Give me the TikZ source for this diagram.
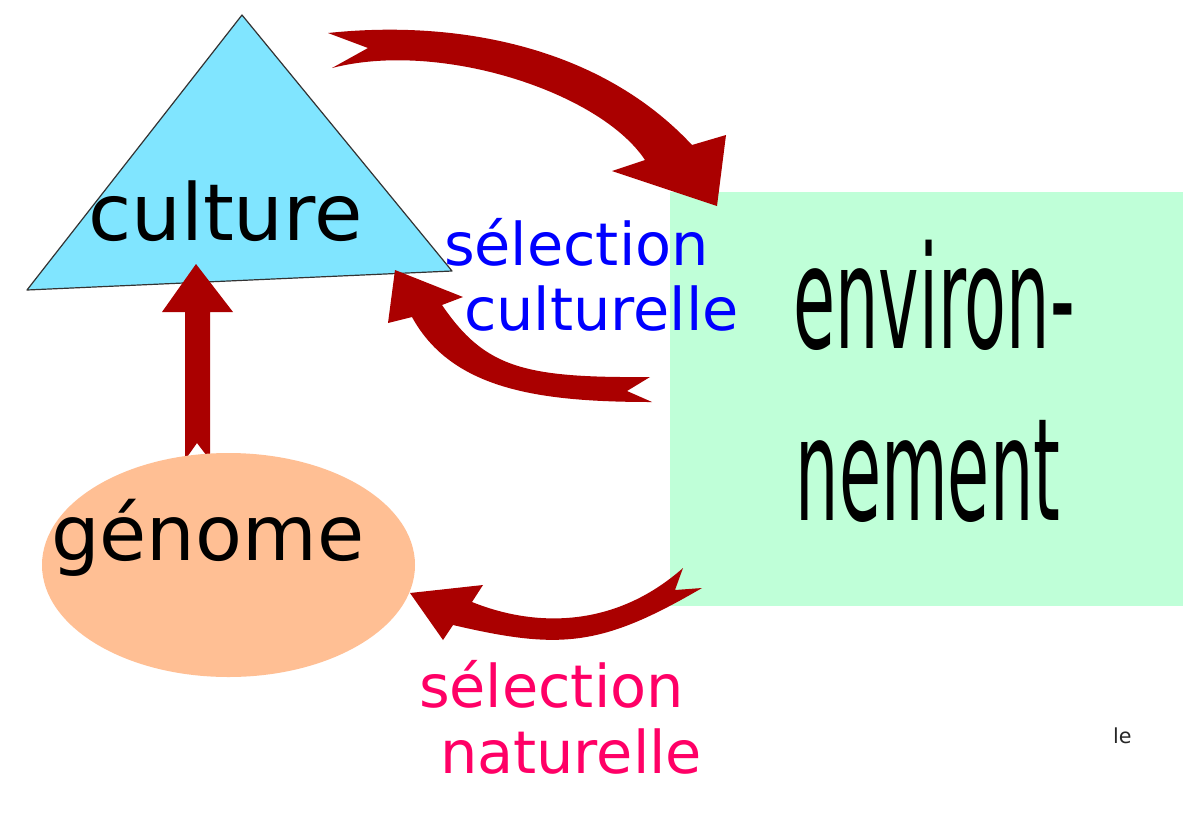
\documentclass[tikz,border=0pt]{standalone}
\usepackage{fontspec}
\setmainfont{DejaVu Sans}
\definecolor{arrowred}{HTML}{AA0000}
\definecolor{tricyan}{HTML}{80E5FF}
\definecolor{envgreen}{HTML}{BFFFD8}
\definecolor{genpeach}{HTML}{FFBF94}
\definecolor{selblue}{HTML}{0000FF}
\definecolor{selpink}{HTML}{FF0066}
\tikzset{
  bigarrow/.style={fill=arrowred},
  lbl/.style={inner sep=0pt, outer sep=0pt, anchor=base west},
  envlbl/.style={inner sep=0pt, outer sep=0pt, anchor=base},
}
\begin{document}
\begin{tikzpicture}[x=0.75pt,y=-0.75pt]
\useasboundingbox[fill=white] (0,0) rectangle (1200,815);

% environment box
\fill[envgreen] (670,192) rectangle (1183,606);

% culture triangle
\filldraw[fill=tricyan, draw=black!80, line width=0.9pt, line join=round]
  (242,15) -- (452,271) -- (27,290) -- cycle;

% arrow genome -> culture
\fill[bigarrow] (196,264) -- (233,312) -- (210,312) -- (210,460)
  -- (197,443) -- (185,460) -- (185,312) -- (162,312) -- cycle;

% genome ellipse
\fill[genpeach] (228.5,565) ellipse [x radius=186.5, y radius=112];

% arrow culture -> environment
\fill[bigarrow] (328,33)
  .. controls (450,20) and (597,43) .. (692,145)
  -- (726,135) -- (717,206) -- (612,171) -- (645,160)
  .. controls (600,92) and (440,40) .. (332,68)
  -- (368,48) -- cycle;

% arrow environment -> culture (selection culturelle)
\fill[bigarrow] (650,377)
  .. controls (524,378) and (485,368) .. (442,305)
  -- (463,297) -- (395,270) -- (388,323) -- (412,317)
  .. controls (452,390) and (540,402) .. (652,402)
  -- (627,391) -- cycle;

% arrow environment -> genome (selection naturelle)
\fill[bigarrow] (683,568)
  .. controls (614,629) and (534,627) .. (472,602)
  -- (483,585) -- (410,593) -- (443,640) -- (453,625)
  .. controls (560,650) and (601,647) .. (702,588)
  -- (675,590) -- cycle;

% texts
\node[lbl, font=\fontsize{59}{62}\selectfont] (culture) at (88,240) {culture};
\node[lbl, font=\fontsize{57.5}{60}\selectfont] (genome) at (51,560) {génome};
\node[lbl, text=selblue, font=\fontsize{44.2}{48}\selectfont] (sc1) at (444,265) {sélection};
\node[lbl, text=selblue, font=\fontsize{44.2}{48}\selectfont] (sc2) at (464,330) {culturelle};
\node[lbl, text=selpink, font=\fontsize{44.2}{48}\selectfont] (sn1) at (419,707) {sélection};
\node[lbl, text=selpink, font=\fontsize{44.2}{48}\selectfont] (sn2) at (440,773) {naturelle};
\node[envlbl, font=\fontsize{107}{120}\selectfont] (env1) at (934,348) {\scalebox{0.48}[1]{environ-}};
\node[envlbl, font=\fontsize{107}{120}\selectfont] (env2) at (928,520) {\scalebox{0.48}[1]{nement}};
\node[lbl, text=black!85, font=\fontsize{15.5}{18}\selectfont] (le) at (1113,743) {le};
\end{tikzpicture}
\end{document}
